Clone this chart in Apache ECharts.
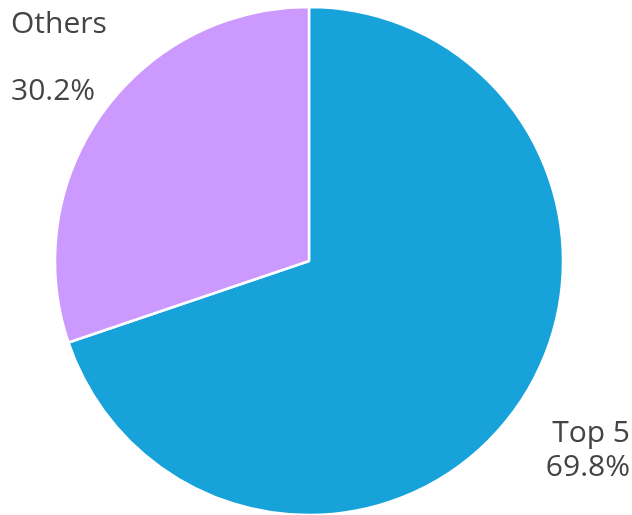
<!DOCTYPE html>
<html>
<head>
<meta charset="utf-8">
<script src="https://cdn.jsdelivr.net/npm/echarts@6/dist/echarts.min.js"></script>
<style>
  html, body { margin: 0; padding: 0; background: #fff; }
  #chart { width: 632px; height: 515px; }
</style>
</head>
<body>
<div id="chart"></div>
<script>
// Share of the top five versus everything else
const categories = ['Top 5', 'Others'];
const shares = [69.8, 30.2];
const colors = ['#18a2da', '#cc99ff'];
// spacing between the name and the percentage in each label
const labelGaps = [34, 67];

const chart = echarts.init(document.getElementById('chart'));

const textStyle = gap => ({ fontFamily: 'Open Sans', fontSize: 30, color: '#444', lineHeight: gap });

chart.setOption({
  animation: false,
  series: [{
    type: 'pie',
    center: [309, 261],
    radius: 254,
    startAngle: 90,
    clockwise: true,
    data: categories.map((name, i) => ({
      name,
      value: shares[i],
      itemStyle: { color: colors[i] },
      label: { rich: { name: textStyle(labelGaps[i]), pct: textStyle(labelGaps[i]) } }
    })),
    itemStyle: { borderColor: '#fff', borderWidth: 2.5 },
    label: {
      show: true,
      position: 'outside',
      overflow: 'none',
      width: 200,
      formatter: p => '{name|' + p.name + '}\n{pct|' + p.value.toFixed(1) + '%}'
    },
    labelLine: { show: false },
    labelLayout: p => p.dataIndex === 1
      ? { x: 11, y: 58, align: 'left', verticalAlign: 'middle' }
      : { x: 630, y: 450, align: 'right', verticalAlign: 'middle' }
  }]
});
</script>
</body>
</html>
